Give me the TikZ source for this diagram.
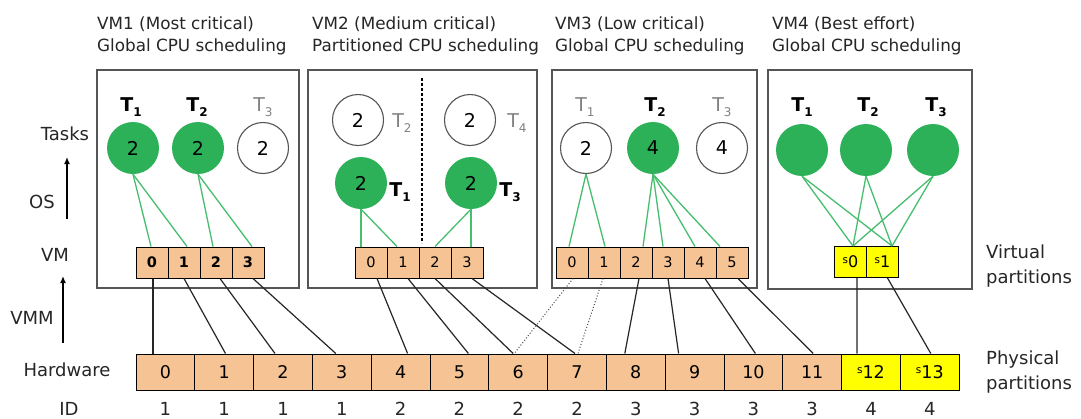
\documentclass[tikz,border=0pt]{standalone}
\usepackage{fontspec}
\setmainfont{DejaVu Sans}
\usetikzlibrary{arrows.meta}

\definecolor{taskgreen}{RGB}{44,176,88}
\definecolor{linkgreen}{RGB}{70,190,110}
\definecolor{cellorange}{RGB}{246,196,148}
\definecolor{cellyellow}{RGB}{255,255,0}
\definecolor{framegray}{RGB}{85,85,85}
\definecolor{labelgray}{RGB}{130,130,130}

% task labels: bold black for active tasks, grey for idle ones
\newcommand{\Tact}[1]{\textbf{T\raisebox{-0.45ex}{\fontsize{12}{12}\selectfont\bfseries #1}}}
\newcommand{\Tidle}[1]{\textcolor{labelgray}{T\raisebox{-0.45ex}{\fontsize{12}{12}\selectfont #1}}}
% special partition label with a small raised s
\newcommand{\spart}[1]{\raisebox{0.55ex}{\fontsize{10.5}{10.5}\selectfont s}#1}

\tikzset{
  vmframe/.style={draw=framegray, line width=1.6pt, inner sep=0pt},
  busy/.style={circle, fill=taskgreen, minimum size=52pt, inner sep=0pt,
    font=\fontsize{19}{19}\selectfont},
  idle/.style={circle, draw=framegray, line width=1.1pt, fill=white,
    minimum size=51pt, inner sep=0pt, font=\fontsize{19}{19}\selectfont},
  tlabel/.style={inner sep=0pt, font=\fontsize{19}{19}\selectfont},
  vcell/.style={draw=black, line width=1pt, fill=cellorange, minimum width=32pt,
    minimum height=31pt, inner sep=0pt, font=\fontsize{14.5}{14.5}\selectfont},
  scell/.style={vcell, fill=cellyellow, font=\fontsize{16}{16}\selectfont},
  hcell/.style={draw=black, line width=1pt, fill=cellorange, minimum width=58.8pt,
    minimum height=36pt, inner sep=0pt, font=\fontsize{17.5}{17.5}\selectfont},
  hscell/.style={hcell, fill=cellyellow},
  caption/.style={inner sep=0pt, align=left, anchor=west,
    font=\fontsize{16.8}{22}\selectfont, text=black!85},
  sidelabel/.style={inner sep=0pt, font=\fontsize{18}{18}\selectfont, text=black!85},
  glink/.style={draw=linkgreen, line width=1.3pt},
  map/.style={draw=black!85, line width=1.2pt},
  mapdot/.style={draw=black!70, line width=1pt, dotted},
  level/.style={draw=black, line width=1.6pt, -{Latex[length=7pt,width=6pt]}},
}

\begin{document}
\begin{tikzpicture}[x=1pt,y=-1pt]
\useasboundingbox (0,0) rectangle (1081,418);
\fill[white] (0,0) rectangle (1081,418);

% ---- VM frames ----
\node[vmframe, minimum width=202pt, minimum height=218pt] (vm1) at (198,179) {};
\node[vmframe, minimum width=229pt, minimum height=218pt] (vm2) at (422.5,179) {};
\node[vmframe, minimum width=205pt, minimum height=218pt] (vm3) at (654.5,179) {};
\node[vmframe, minimum width=204pt, minimum height=219pt] (vm4) at (870,179.5) {};

% ---- captions ----
\node[caption] (cap1) at (97,36) {VM1 (Most critical)\\Global CPU scheduling};
\node[caption] (cap2) at (312,36) {VM2 (Medium critical)\\Partitioned CPU scheduling};
\node[caption] (cap3) at (555,36) {VM3 (Low critical)\\Global CPU scheduling};
\node[caption] (cap4) at (772,36) {VM4 (Best effort)\\Global CPU scheduling};

% ---- left axis ----
\node[sidelabel] (lTasks) at (65,134) {Tasks};
\node[sidelabel] (lOS) at (42,202) {OS};
\node[sidelabel] (lVM) at (55,255) {VM};
\node[sidelabel] (lVMM) at (32,318) {VMM};
\node[sidelabel] (lHW) at (67,370) {Hardware};
\node[sidelabel] (lID) at (69,409) {ID};
\coordinate (osLow) at (67,219);
\coordinate (osHigh) at (67,157);
\coordinate (vmmLow) at (63,343);
\coordinate (vmmHigh) at (63,276);
\draw[level] (osLow) -- (osHigh);
\draw[level] (vmmLow) -- (vmmHigh);

% ---- right labels ----
\node[sidelabel, align=left, anchor=west, font=\fontsize{18}{25}\selectfont] (lVirt) at (986,266) {Virtual\\partitions};
\node[sidelabel, align=left, anchor=west, font=\fontsize{18}{25}\selectfont] (lPhys) at (986,372) {Physical\\partitions};

% ---- VM1 ----
\node[busy] (v1t1) at (133,148) {2};
\node[busy] (v1t2) at (198,148) {2};
\node[idle] (v1t3) at (263,148) {2};
\node[tlabel] (v1l1) at (131,107) {\Tact{1}};
\node[tlabel] (v1l2) at (197,107) {\Tact{2}};
\node[tlabel] (v1l3) at (263,107) {\Tidle{3}};
\foreach \i/\x in {0/152,1/184,2/216,3/248}
  \node[vcell, font=\fontsize{14.5}{14.5}\selectfont\bfseries] (a\i) at (\x,262.5) {\i};

% ---- VM2 ----
\coordinate (sepTop) at (422,78);
\coordinate (sepBot) at (422,243);
\draw[black, line width=1.2pt, dash pattern=on 3pt off 2pt] (sepTop) -- (sepBot);
\node[idle] (v2t2) at (358,120) {2};
\node[idle] (v2t4) at (470,120) {2};
\node[tlabel] (v2l2) at (402,123) {\Tidle{2}};
\node[tlabel] (v2l4) at (517,123) {\Tidle{4}};
\node[busy] (v2t1) at (361,183) {2};
\node[busy] (v2t3) at (471,183) {2};
\node[tlabel] (v2l1) at (400,192) {\Tact{1}};
\node[tlabel] (v2l3) at (510,192) {\Tact{3}};
\foreach \i/\x in {0/371,1/403,2/435,3/467}
  \node[vcell] (b\i) at (\x,262.5) {\i};

% ---- VM3 ----
\node[idle] (v3t1) at (586,148) {2};
\node[busy] (v3t2) at (653,148) {4};
\node[idle] (v3t3) at (722,148) {4};
\node[tlabel] (v3l1) at (585,107) {\Tidle{1}};
\node[tlabel] (v3l2) at (655,107) {\Tact{2}};
\node[tlabel] (v3l3) at (722,107) {\Tidle{3}};
\foreach \i/\x in {0/572,1/604,2/636,3/668,4/700,5/732}
  \node[vcell] (c\i) at (\x,262.5) {\i};

% ---- VM4 ----
\node[busy] (v4t1) at (802,150) {};
\node[busy] (v4t2) at (866,150) {};
\node[busy] (v4t3) at (933,150) {};
\node[tlabel] (v4l1) at (802,107) {\Tact{1}};
\node[tlabel] (v4l2) at (868,107) {\Tact{2}};
\node[tlabel] (v4l3) at (936,107) {\Tact{3}};
\node[scell] (d0) at (850.5,262) {\spart{0}};
\node[scell] (d1) at (882.5,262) {\spart{1}};

% ---- physical partitions and IDs ----
\foreach \i/\id in {0/1,1/1,2/1,3/1,4/2,5/2,6/2,7/2,8/3,9/3,10/3,11/3}{
  \node[hcell] (h\i) at ({165.4+58.8*\i},372) {\i};
  \node[sidelabel] (id\i) at ({165.4+58.8*\i},409) {\id};
}
\node[hscell] (h12) at ({165.4+58.8*12},372) {\spart{12}};
\node[hscell] (h13) at ({165.4+58.8*13},372) {\spart{13}};
\node[sidelabel] (id12) at ({165.4+58.8*12},409) {4};
\node[sidelabel] (id13) at ({165.4+58.8*13},409) {4};

% ---- task to virtual partition links ----
\draw[glink] (v1t1.south) -- ([xshift=-1pt]a0.north);
\draw[glink] (v1t1.south) -- ([xshift=3pt]a1.north);
\draw[glink] (v1t2.south) -- ([xshift=-3pt]a2.north);
\draw[glink] (v1t2.south) -- ([xshift=4pt]a3.north);

\draw[glink] (v2t1.south) -- (v2t1.south |- b0.north);
\draw[glink] (v2t1.south) -- ([xshift=-6pt]b1.north);
\draw[glink] (v2t3.south) -- (b2.north);
\draw[glink] (v2t3.south) -- (v2t3.south |- b3.north);

\draw[glink] (v3t1.south) -- ([xshift=-3pt]c0.north);
\draw[glink] (v3t1.south) -- ([xshift=1pt]c1.north);
\draw[glink] (v3t2.south) -- ([xshift=7pt]c2.north);
\draw[glink] (v3t2.south) -- ([xshift=-5pt]c3.north);
\draw[glink] (v3t2.south) -- ([xshift=-5pt]c4.north);
\draw[glink] (v3t2.south) -- ([xshift=-12pt]c5.north);

\foreach \t in {v4t1,v4t2,v4t3}{
  \draw[glink] (\t.south) -- ([xshift=2.5pt]d0.north);
  \draw[glink] (\t.south) -- ([xshift=9.5pt]d1.north);
}

% ---- virtual to physical mapping ----
\draw[map] ([xshift=1pt]a0.south) -- ([xshift=-12.4pt]h0.north);
\draw[map] (a1.south) -- ([xshift=1.3pt]h1.north);
\draw[map] ([xshift=4pt]a2.south) -- ([xshift=-8pt]h2.north);
\draw[map] ([xshift=5pt]a3.south) -- ([xshift=-6pt]h3.north);
\draw[map] ([xshift=6pt]b0.south) -- ([xshift=7pt]h4.north);
\draw[map] ([xshift=5pt]b1.south) -- ([xshift=9pt]h5.north);
\draw[map] (b2.south) -- ([xshift=-5pt]h6.north);
\draw[map] ([xshift=5pt]b3.south) -- ([xshift=-2pt]h7.north);
\draw[mapdot] ([xshift=1pt]c0.south) -- ([xshift=-4pt]h6.north);
\draw[mapdot] ([xshift=-1pt]c1.south) -- ([xshift=1pt]h7.north);
\draw[map] ([xshift=3pt]c2.south) -- ([xshift=-11pt]h8.north);
\draw[map] (c3.south) -- ([xshift=-16pt]h9.north);
\draw[map] ([xshift=5pt]c4.south) -- ([xshift=2pt]h10.north);
\draw[map] ([xshift=6pt]c5.south) -- ([xshift=1pt]h11.north);
\draw[map] ([xshift=6.5pt]d0.south) -- ([xshift=-14pt]h12.north);
\draw[map] ([xshift=5pt]d1.south) -- ([xshift=1pt]h13.north);
\end{tikzpicture}
\end{document}
